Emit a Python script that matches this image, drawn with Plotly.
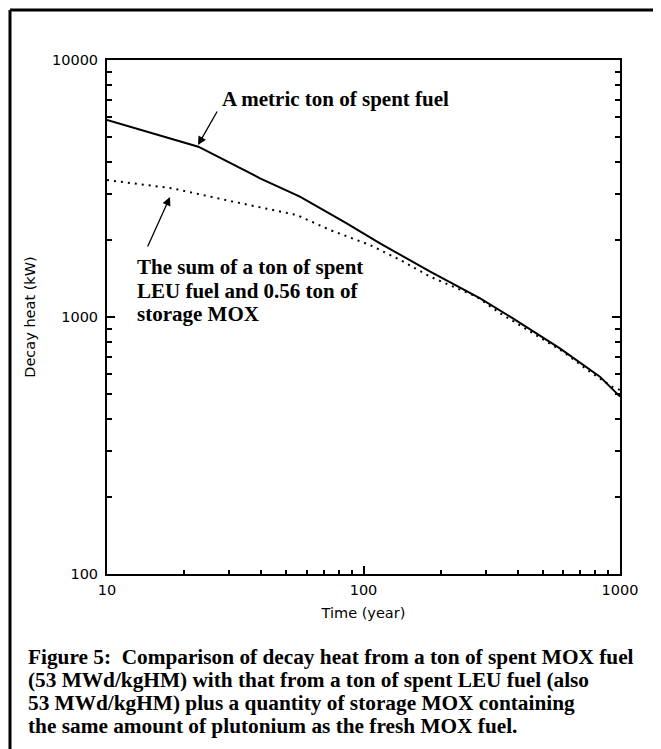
import plotly.graph_objects as go

# ---- data ----
time_mox = [10, 19.8, 22.7, 39.5, 56.5, 86, 116, 182, 285, 373, 583, 835, 1000]
heat_mox = [5840, 4810, 4600, 3465, 2940, 2315, 1935, 1500, 1182, 1003, 755, 586, 490]

time_sum = [10, 17.9, 31.1, 54.9, 74, 106, 139, 182, 276, 340, 600, 764, 931, 1000]
heat_sum = [3410, 3170, 2810, 2494, 2181, 1906, 1667, 1435, 1199, 1036, 733, 612, 536, 520]

x_major = [10, 100, 1000]
x_major_text = ["10", "100", "1000"]
y_major = [100, 1000, 10000]
y_major_text = ["100", "1000", "10000"]
x_minor = [m * d for d in (10, 100) for m in range(2, 10)]
y_minor = [m * d for d in (100, 1000) for m in range(2, 10)]

x_title = "Time (year)"
y_title = "Decay heat (kW)"
label_mox = "A metric ton of spent fuel"
label_sum = ["The sum of a ton of spent", "LEU fuel and 0.56 ton of", "storage MOX"]
caption = [
    "Figure 5:&nbsp; Comparison of decay heat from a ton of spent MOX fuel",
    "(53 MWd/kgHM) with that from a ton of spent LEU fuel (also",
    "53 MWd/kgHM) plus a quantity of storage MOX containing",
    "the same amount of plutonium as the fresh MOX fuel.",
]

# ---- layout geometry (page pixels) ----
W, H = 661, 749
OFF = 8  # page offset of the figure inside the browser window
L, R, T, B = 107, 620, 60, 574
PW, PH = R - L, B - T


def px(x):
    return (x - L) / PW


def py(y):
    return (B - y) / PH


serif = "Liberation Serif, Times New Roman, serif"
sans = "DejaVu Sans, sans-serif"

fig = go.Figure()
fig.add_trace(go.Scatter(x=time_mox, y=heat_mox, mode="lines",
                         line=dict(color="black", width=2), showlegend=False))
fig.add_trace(go.Scatter(x=time_sum, y=heat_sum, mode="lines",
                         line=dict(color="black", width=2, dash="2px,5px"), showlegend=False))

axis_common = dict(showgrid=False, zeroline=False, showline=True, linecolor="black",
                   linewidth=2, ticks="inside", ticklen=8, tickwidth=1.5, tickcolor="black",
                   tickfont=dict(family=sans, size=14.5, color="black"))

fig.update_xaxes(type="log", range=[1, 3], tickvals=x_major, ticktext=x_major_text,
                 mirror=True, ticklabelstandoff=2,
                 minor=dict(tickvals=x_minor, ticks="inside", ticklen=4, tickwidth=1.5, tickcolor="black"),
                 title=dict(text=x_title, font=dict(family=sans, size=14.5, color="black"), standoff=10),
                 **axis_common)
fig.update_yaxes(type="log", range=[2, 4], tickvals=y_major, ticktext=y_major_text,
                 mirror="ticks", ticklabelstandoff=4,
                 minor=dict(tickvals=y_minor, ticks="inside", ticklen=5, tickwidth=1.5, tickcolor="black"),
                 title=dict(text=y_title, font=dict(family=sans, size=14.5, color="black"), standoff=13),
                 **axis_common)

annotations = []
# arrows
annotations.append(dict(xref="paper", yref="paper", x=px(198), y=py(145), ax=20, ay=-35,
                        text="", showarrow=True, arrowhead=2, arrowsize=1.3, arrowwidth=1.3,
                        arrowcolor="black"))
annotations.append(dict(xref="paper", yref="paper", x=px(170), y=py(197), ax=-23, ay=51,
                        text="", showarrow=True, arrowhead=2, arrowsize=1.3, arrowwidth=1.3,
                        arrowcolor="black"))
# labels
annotations.append(dict(xref="paper", yref="paper", x=px(220), y=py(99), text="<b>%s</b>" % label_mox,
                        showarrow=False, xanchor="left", yanchor="middle",
                        font=dict(family=serif, size=21, color="black")))
for i, line in enumerate(label_sum):
    annotations.append(dict(xref="paper", yref="paper", x=px(135), y=py(267 + 23.5 * i),
                            text="<b>%s</b>" % line, showarrow=False, xanchor="left",
                            yanchor="middle", font=dict(family=serif, size=21, color="black")))
for i, line in enumerate(caption):
    annotations.append(dict(xref="paper", yref="paper", x=px(26), y=py(657 + 23 * i),
                            text="<b>%s</b>" % line, showarrow=False, xanchor="left",
                            yanchor="middle", font=dict(family=serif, size=21.3, color="black")))

shapes = [
    dict(type="line", xref="paper", yref="paper", x0=px(10), x1=px(680), y0=py(10), y1=py(10),
         line=dict(color="black", width=3)),
    dict(type="line", xref="paper", yref="paper", x0=px(10), x1=px(10), y0=py(10), y1=py(770),
         line=dict(color="black", width=3)),
]

fig.update_layout(width=W, height=H, autosize=False,
                  margin=dict(l=L - OFF, r=W - (R - OFF), t=T - OFF, b=H - (B - OFF), pad=0),
                  paper_bgcolor="white", plot_bgcolor="white",
                  annotations=annotations, shapes=shapes, showlegend=False)

fig.write_html("out.html")
